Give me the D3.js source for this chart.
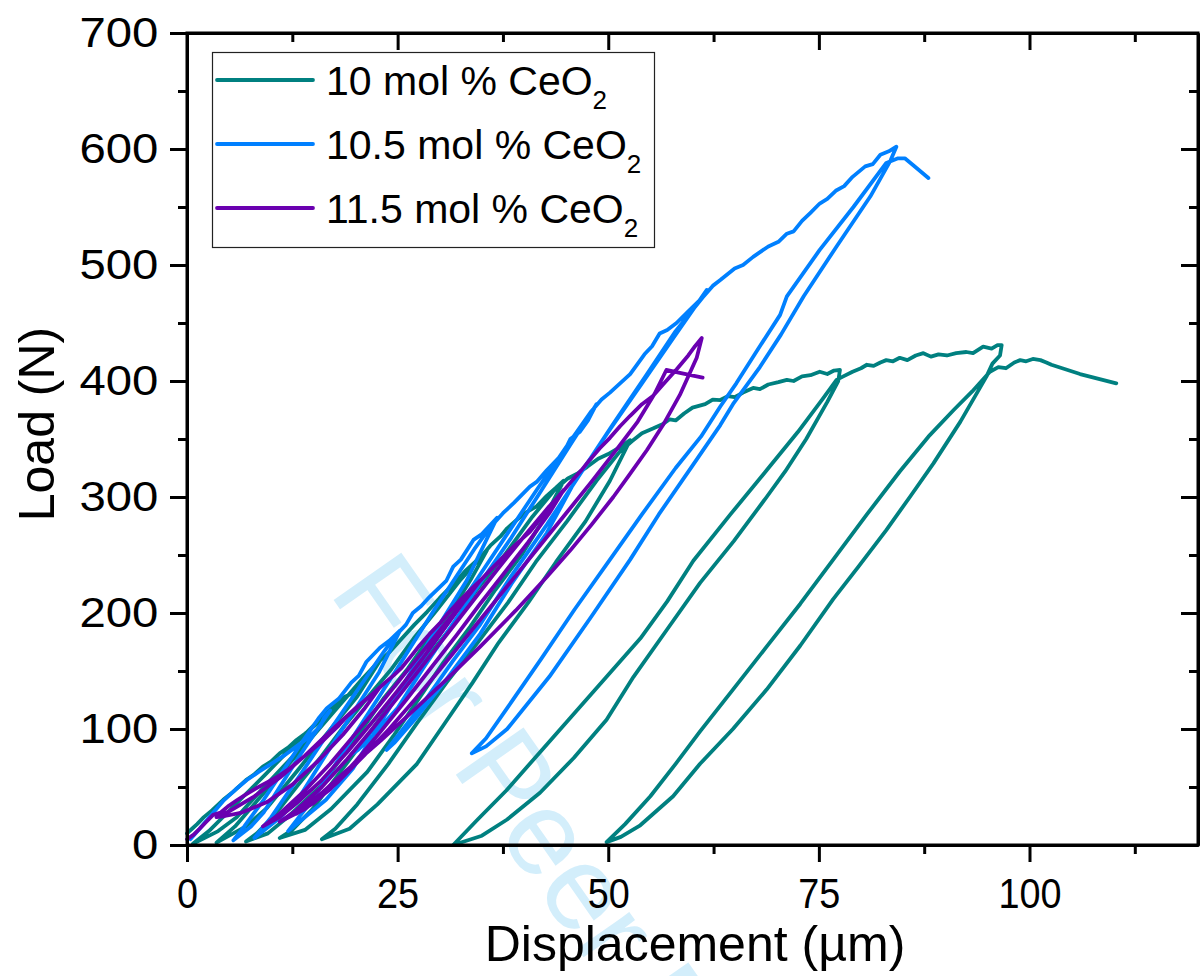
<!DOCTYPE html>
<html>
<head>
<meta charset="utf-8">
<script src="https://cdn.jsdelivr.net/npm/d3@7"></script>
<style>
html,body{margin:0;padding:0;background:#fff;}
svg{display:block;}
text{font-family:"Liberation Sans",Arial,sans-serif;}
</style>
</head>
<body>
<svg id="chart" width="1200" height="976"></svg>
<script>
// ---------- data ----------
const seriesNames = ["10 mol % CeO", "10.5 mol % CeO", "11.5 mol % CeO"];
const seriesColors = ["#008080", "#0080ff", "#6a00b0"];
const xTicks = [0, 25, 50, 75, 100];
const yTicks = [0, 100, 200, 300, 400, 500, 600, 700];

// 10 mol % CeO2 : [displacement (µm), load (N)]
const ceo10 = [
[0,10],[0.6,14],[1.2,18],[2,24],[3,30],[4.3,39],[5.5,46],[7,56],[8,61],[9,67.5],[10,72],[11,79],[12,84],[13,90.5],[14,96],[15,102],[16,108],[17,114],[17.8,122],
[17.5,118],[15.1,96],[12,72],[8.9,48],[5.9,24],[3.7,12],[0.7,1],
[2.6,12],[5.9,36],[9.2,60],[12.4,84],[15.7,108],[17.2,118],
[18.5,127],[19.7,131],[21,141],[22,150],[23,160],
[20.2,128],[16.6,96],[13.1,64],[9.5,32],[7,16],[3.5,2],
[5.7,16],[9.5,48],[13.3,80],[17.1,112],[20.9,144],[22.6,157],
[24,166],[25.5,178],[27,190],[28.5,201],[30,213],[31.5,224],[33,236],[34.5,246],[35.6,254],
[33.7,229],[31.5,203],[28.7,178],[26.2,152],[23.4,127],[21,102],[18.4,76],[15.9,51],[12.1,25],[9.6,10],[7,3],
[8.3,10],[10.3,25],[13.1,51],[15.9,76],[18.6,102],[21.4,127],[24.3,152],[26.9,178],[29.7,203],[32.5,229],[34.6,246],
[36,258],[37.2,266],[38,273],[39.1,280],[40.3,287],[41.5,292],[42.7,301],[43.8,308],[44.7,314],
[42.5,283],[39.8,251],[36.6,220],[33.6,188],[30.4,157],[27.5,126],[24.5,94],[21.4,63],[17.1,31],[14,13],[11,6],
[12.5,13],[14.9,31],[18.2,63],[21.4,94],[24.6,126],[28,157],[31.4,188],[34.4,220],[37.8,251],[41,283],[43.5,305],
[45.2,316],[46.3,320],[47.5,326],[48.8,333],[50,337],[51.4,343],[52.6,349],
[50.2,314],[47.3,279],[43.8,244],[40.5,209],[37,174.5],[33.9,140],[30.6,105],[27.3,70],[22.6,35],[19.3,14],[16,5],
[17.6,14],[20.2,35],[23.9,70],[27.3,105],[30.8,140],[34.5,174.5],[38.1,209],[41.4,244],[45.1,279],[48.6,314],[51.3,338.5],
[52.8,348],[54,355],[55.3,359],[56.5,363],[57.3,367],[58,366],[59,372],[60,377],[61.5,380],[62.4,384],[63.3,383.6],[64.2,387],[65,386],[66,390],[67.2,394],[68,393],[69,397],[70.2,399],[71.2,401],[72,400],[73,404],[74,405],[75.1,408],[76,406],[76.8,409],[77.5,409.5],
[77.3,400],[76,382],[73.5,350],[71,322],[68.8,300],[64.9,262],[60.9,226],[57,186],[53,145],[49.8,108],[45.9,75],[41.9,45],[38,22],[35,8],[31.6,0],
[34.5,22],[37.9,47],[41.9,80],[45.9,113],[49.8,145],[53.8,178],[57,210],[60.1,245],[64.5,285],[68.8,323],[72.5,356],[75.5,385],[77.1,401],
[77.9,404],[79,408],[80,411],[80.7,414],[81.5,413],[82.3,416],[83,418],[83.8,417],[84.6,420],[85.5,418],[86.5,422],[87.4,424],[88.3,421],[89.2,423],[90.2,422],[91.3,424],[92.5,425],[93.3,424],[94.5,429.6],[95.5,428],[96.2,431],[96.7,431],
[96.5,422],[95.6,415],[94.9,404],[91.8,365],[88.6,329],[85.8,300],[83,271.5],[79.7,240],[76.7,212],[72.8,172],[68.8,134],[64.8,100],[60.9,70],[57.7,42],[53.8,17],[51.5,7],[49.8,2.5],
[52,18],[55,42],[58,70],[60.9,98],[64.8,134],[68.8,171],[72.8,208],[76.7,246],[80.7,285],[84.6,322],[88,352],[91,375],[93.2,391],[95.3,408],
[96.3,412],[97.2,411],[98.2,416],[98.9,418],[99.6,417],[100.4,419],[101.3,418],[102,416],[102.6,414],[106,406],[110.3,398]
];

// 10.5 mol % CeO2
const ceo105 = [
[0.4,5],[1.5,14],[3,27],[4.3,38],[5.8,48],[7.1,56],[8.5,63],[10,70],[11.5,77],[13,85],[14.5,93],[15.8,102],[16.3,110],[17,116],
[15.3,98],[13.2,75],[11.1,51],[9.1,28],[7.6,16],[5.5,4],
[6.8,16],[9.1,39],[11.3,63],[13.5,87],[15.7,110],[16.6,118],
[18,126],[19.5,140],[20.4,146],[21.3,158],[22.9,170],[24,176],[25.3,185],
[22.8,149],[19.6,113],[16.5,78],[13.4,42],[11.1,24],[8,6],
[10,24],[13.4,60],[16.7,96],[20,131],[23.4,167],[24.7,180],
[26,190],[26.8,200],[27.8,206],[28.8,214],[30.8,228],[31.6,240],[32.5,246],[34,263],[35,268],[36.8,282],
[33.2,228],[28.6,174],[24.2,120],[19.7,66],[16.5,39],[12,12],
[14.9,39],[19.7,93],[24.5,147],[29.2,201],[34.1,255],[36,274],
[37.5,286],[38.8,295],[40.7,309],[41.5,313],[42.7,323],[44.7,338],[45.5,350],[46.6,356],[47.6,366],[48.6,380],
[45.5,345],[42,305],[38.5,265],[35,228],[31.5,190],[28,152],[25,118],[22,94],[20.3,82],[19.5,78],
[21,90],[24,118],[27.5,155],[31,192],[34.5,230],[38,268],[41.5,306],[45,343],[48,374],
[49.2,384],[50.2,390],[51.4,398],[52.6,406],[53.4,414],[54.3,423],[55.2,430],[56.1,441],[57,444],[58.1,450],[59.5,460],[60.9,470],[61.7,478.5],
[58,440],[54,398],[50,356],[46,313],[42.7,269],[38.5,225],[34.8,182],[30.5,140],[27,108],[24.6,88],[23.7,82],
[25,94],[28,122],[31.5,158],[34.8,190],[38.5,232],[42.7,276],[46.5,318],[50.5,362],[54.5,405],[58,443],[61.2,472],
[62.4,482],[63.3,487],[65,497],[66,500],[67.2,507],[69,516],[70.2,520],[71.2,527],[72,529],[73,538],[74,545],[75.1,553],[76,557],[77,564],[78,568],[79,576],[80.5,585],[81.4,587],[82.3,595],[83.3,598],[84.2,602],
[83.5,590],[81.1,559],[77.1,516],[73.2,473],[70.5,440],[68,412],[64.8,380],[63.3,362],[60,327],[56,285],[52.6,246],[48,197],[43,145],[38,100],[35.5,85],[33.8,79],
[35.5,92],[38,118],[42,160],[46,203],[50.2,246],[54,285],[58,325],[61,352],[63.3,378],[65.2,398],[67.2,421],[70.4,457],[71.2,473],[75.1,513],[79.1,550],[83,588],[84.4,592],
[85.2,592],[86.2,586],[88,575]
];

// 11.5 mol % CeO2
const ceo115 = [
[0,5],[0.8,9],[1.5,14],[2.3,20],[3.1,26],[4,28],[5,34],[6,39],[7.1,44],[8,48],[9,52],[10,56],[11,60],[12,65],[13,71],[14,77],[15,83],[16,89],[17,96],[18,103],[19,111],[20,117],[21,124],[22,130],[22.9,136],
[21,117],[18.5,95],[15.5,72],[12.5,52],[9.5,37],[6.5,28],[4.5,25],[3.5,24],
[5,29],[8,42],[11,58],[14,77],[17,98],[20,118],[22.5,133],
[23.5,140],[24.5,146],[25.5,153],[26.5,162],[27.6,172],[28.8,182],[30,191],[31,200],[32.3,210],[33.5,219],[34.8,228],
[33,211],[30.5,186],[28,161],[25,133],[22,106],[19,80],[16,56],[13,36],[11,24],[9,16],
[11,27],[14,47],[17,70],[20,96],[23,122],[26,149],[29,176],[32,203],[34.3,224],
[36,237],[37.5,248],[39,259],[40.7,270],[41.7,279],[42.7,288],[43.7,297],[44.7,306],
[43,286],[40.5,261],[37.5,233],[34.8,208],[32,181],[29,153],[26,125],[23,98],[20,72],[17,48],[14,31],[11,20],
[13,30],[16,50],[19,74],[22,100],[25,127],[28,155],[31,183],[34,211],[37,239],[40,266],[43,292],[44.3,302],
[45.8,315],[46.8,323],[47.8,332],[49,342],[50.2,351],[51.4,361],[52.6,370],[54,380],[55.3,387],[56.5,397],[58.1,410],[59.5,422],[60.3,430],[61.1,437],
[60.5,420],[58.5,388],[56.5,362],[54.6,340.5],[52.5,319],[50.6,300],[48,276],[45.5,254],[42.7,231],[39,202],[34.8,171],[31,144],[26.9,116],[23,90],[19,64.7],[16,45],[13,27],
[15,36],[18,55],[21,77],[24,100],[27,125],[30,151],[33,178],[36,205],[39,232],[42,259],[45,286],[48,313],[51,341],[53.5,365],[55.5,389],[56.9,409.5],
[58.5,407],[61.2,403]
];

const allSeries = [ceo10, ceo105, ceo115];

// ---------- layout ----------
const svg = d3.select("#chart");
const L = 187, R = 1198, T = 33, B = 845;
const x = d3.scaleLinear().domain([0, 120]).range([L, R]);
const y = d3.scaleLinear().domain([0, 700]).range([B, T]);

// watermark (behind everything)
svg.append("text")
  .attr("transform", "translate(328,592) rotate(55)")
  .attr("font-size", 120)
  .attr("fill", "#d3eefb")
  .text("For Peer Review");

// data lines
const line = d3.line().x(d => x(d[0])).y(d => y(d[1]));
const gData = svg.append("g");
allSeries.forEach((s, i) => {
  gData.append("path")
    .datum(s)
    .attr("d", line)
    .attr("fill", "none")
    .attr("stroke", seriesColors[i])
    .attr("stroke-width", 3.8)
    .attr("stroke-linejoin", "round")
    .attr("stroke-linecap", "round");
});

// axes
function styleAxis(g) {
  g.selectAll(".domain").attr("stroke", "#000").attr("stroke-width", 3);
  g.selectAll(".tick line").attr("stroke", "#000").attr("stroke-width", 3);
  g.selectAll("text").attr("fill", "#000").attr("font-family", "'Liberation Sans', Arial, sans-serif");
}
const xMinor = [12.5, 37.5, 62.5, 87.5, 112.5];
const yMinor = [50, 150, 250, 350, 450, 550, 650];

// bottom
const gB = svg.append("g").attr("transform", `translate(0,${B})`)
  .call(d3.axisBottom(x).tickValues(xTicks).tickSize(17).tickSizeOuter(0).tickPadding(16).tickFormat(d3.format("d")));
gB.selectAll("text").attr("font-size", 42).attr("transform", "scale(0.9,1)");
styleAxis(gB);
const gBm = svg.append("g").attr("transform", `translate(0,${B})`)
  .call(d3.axisBottom(x).tickValues(xMinor).tickSize(9).tickSizeOuter(0).tickFormat(""));
styleAxis(gBm);

// left
const gL = svg.append("g").attr("transform", `translate(${L},0)`)
  .call(d3.axisLeft(y).tickValues(yTicks).tickSize(17).tickSizeOuter(0).tickPadding(9).tickFormat(d3.format("d")));
gL.selectAll("text").attr("font-size", 43).attr("transform", "scale(1.1,1)");
styleAxis(gL);
const gLm = svg.append("g").attr("transform", `translate(${L},0)`)
  .call(d3.axisLeft(y).tickValues(yMinor).tickSize(9).tickSizeOuter(0).tickFormat(""));
styleAxis(gLm);

// top (inward)
const gT = svg.append("g").attr("transform", `translate(0,${T})`)
  .call(d3.axisBottom(x).tickValues(xTicks).tickSize(17).tickSizeOuter(0).tickFormat(""));
styleAxis(gT);
const gTm = svg.append("g").attr("transform", `translate(0,${T})`)
  .call(d3.axisBottom(x).tickValues(xMinor).tickSize(9).tickSizeOuter(0).tickFormat(""));
styleAxis(gTm);

// right (inward)
const gR = svg.append("g").attr("transform", `translate(${R},0)`)
  .call(d3.axisLeft(y).tickValues(yTicks).tickSize(17).tickSizeOuter(0).tickFormat(""));
styleAxis(gR);
const gRm = svg.append("g").attr("transform", `translate(${R},0)`)
  .call(d3.axisLeft(y).tickValues(yMinor).tickSize(9).tickSizeOuter(0).tickFormat(""));
styleAxis(gRm);

// frame
svg.append("rect").attr("x", L).attr("y", T).attr("width", R - L).attr("height", B - T)
  .attr("fill", "none").attr("stroke", "#000").attr("stroke-width", 3);

// axis titles
svg.append("text")
  .attr("x", 695).attr("y", 961)
  .attr("text-anchor", "middle")
  .attr("font-size", 50)
  .text("Displacement (µm)");
svg.append("text")
  .attr("transform", "translate(54,424) rotate(-90)")
  .attr("text-anchor", "middle")
  .attr("font-size", 50)
  .text("Load (N)");

// legend
const lg = svg.append("g");
lg.append("rect").attr("x", 212.5).attr("y", 52.5).attr("width", 442).attr("height", 195)
  .attr("fill", "#fff").attr("stroke", "#222").attr("stroke-width", 1.2);
const ly = [80, 144, 208];
seriesNames.forEach((n, i) => {
  lg.append("line").attr("x1", 217).attr("x2", 313).attr("y1", ly[i]).attr("y2", ly[i])
    .attr("stroke", seriesColors[i]).attr("stroke-width", 3.8).attr("stroke-linecap", "round");
  const t = lg.append("text").attr("x", 326).attr("y", ly[i] + 15).attr("font-size", 41);
  t.append("tspan").text(n);
  t.append("tspan").attr("font-size", 26).attr("dy", 14).text("2");
});
</script>
</body>
</html>
